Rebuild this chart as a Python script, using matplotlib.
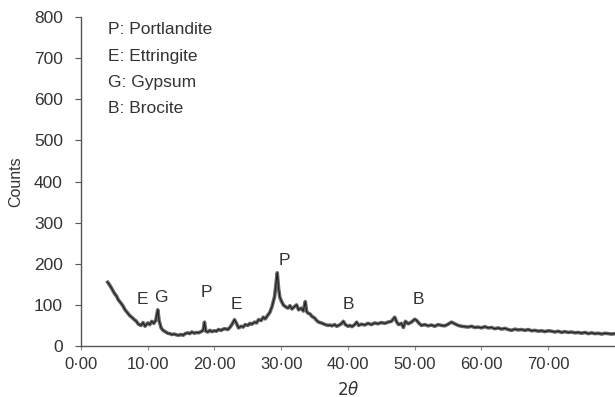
import matplotlib.pyplot as plt
from matplotlib.ticker import FuncFormatter

# XRD pattern, values
two_theta = [4.0, 4.3, 4.6, 5.0, 5.3, 5.6, 6.0, 6.3, 6.6, 7.0, 7.3, 7.6, 8.0, 8.3, 8.6,
             9.0, 9.3, 9.6, 10.0, 10.3, 10.6, 10.9, 11.2, 11.5, 11.7, 12.0, 12.3, 12.6,
             13.0, 13.3, 13.6, 14.0, 14.3, 14.6, 15.0, 15.3, 15.6, 16.0, 16.3, 16.6,
             17.0, 17.3, 17.6, 18.0, 18.3, 18.5, 18.7, 19.0, 19.3, 19.6, 20.0, 20.3,
             20.6, 21.0, 21.3, 21.6, 22.0, 22.3, 22.6, 23.0, 23.3, 23.6, 24.0, 24.3,
             24.6, 25.0, 25.3, 25.6, 26.0, 26.3, 26.6, 27.0, 27.3, 27.6, 28.0, 28.3,
             28.6, 29.0, 29.2, 29.4, 29.6, 29.8, 30.0, 30.3, 30.6, 31.0, 31.3, 31.6,
             32.0, 32.3, 32.6, 33.0, 33.3, 33.6, 33.8, 34.0, 34.3, 34.6, 35.0, 35.3,
             35.6, 36.0, 36.3, 36.6, 37.0, 37.3, 37.6, 38.0, 38.3, 38.6, 39.0, 39.3,
             39.6, 40.0, 40.3, 40.6, 41.0, 41.3, 41.6, 42.0, 42.5, 43.0, 43.5, 44.0,
             44.5, 45.0, 45.5, 46.0, 46.5, 47.0, 47.3, 47.6, 48.0, 48.3, 48.6, 49.0,
             49.5, 50.0, 50.3, 50.6, 51.0, 51.5, 52.0, 52.5, 53.0, 53.5, 54.0, 54.5,
             55.0, 55.5, 56.0, 56.5, 57.0, 57.5, 58.0, 58.5, 59.0, 59.5, 60.0, 60.5,
             61.0, 61.5, 62.0, 62.5, 63.0, 63.5, 64.0, 64.5, 65.0, 65.5, 66.0, 66.5,
             67.0, 67.5, 68.0, 68.5, 69.0, 69.5, 70.0, 70.5, 71.0, 71.5, 72.0, 72.5,
             73.0, 73.5, 74.0, 74.5, 75.0, 75.5, 76.0, 76.5, 77.0, 77.5, 78.0, 78.5,
             79.0, 79.5, 80.0]
counts = [155, 148, 140, 128, 122, 112, 104, 97, 88, 80, 74, 70, 64, 60, 53,
          50, 57, 48, 56, 52, 60, 55, 62, 88, 62, 44, 38, 35,
          31, 30, 28, 29, 27, 26, 28, 26, 30, 32, 30, 34,
          31, 33, 32, 35, 38, 58, 36, 34, 38, 35, 37, 36,
          40, 38, 41, 42, 40, 45, 52, 64, 55, 44, 48, 46,
          52, 50, 55, 53, 58, 56, 64, 62, 70, 66, 75, 82,
          95, 120, 150, 178, 140, 118, 110, 100, 96, 92, 98, 90,
          96, 100, 88, 92, 85, 108, 84, 80, 78, 72, 68, 62,
          58, 56, 54, 52, 50, 51, 49, 52, 48, 50, 54, 60,
          52, 48, 50, 47, 52, 58, 50, 53, 51, 55, 52, 56,
          54, 57, 55, 58, 60, 70, 58, 52, 55, 45, 60, 54,
          58, 65, 62, 56, 50, 52, 49, 51, 48, 52, 50, 49,
          53, 58, 54, 50, 48, 47, 46, 48, 45, 46, 44, 47,
          44, 45, 42, 44, 41, 43, 40, 38, 41, 39, 40, 38,
          40, 37, 38, 36, 37, 35, 37, 36, 34, 36, 33, 35,
          33, 34, 32, 33, 31, 33, 30, 32, 30, 31, 29, 31,
          30, 29, 30]

# peak labels
peak_labels = ['E', 'G', 'P', 'E', 'P', 'B', 'B']
peak_x = [9.2, 11.9, 18.8, 23.3, 30.5, 40.0, 50.5]
peak_y = [112, 117, 131, 100, 209, 102, 114]

legend_lines = ['P: Portlandite', 'E: Ettringite', 'G: Gypsum', 'B: Brocite']
x_ticks = [0, 10, 20, 30, 40, 50, 60, 70]
y_ticks = [0, 100, 200, 300, 400, 500, 600, 700, 800]

plt.rcParams['font.family'] = ['Liberation Sans', 'DejaVu Sans']
txt = '#333333'

fig = plt.figure(figsize=(6.15, 3.97), dpi=100)
ax = fig.add_axes([0.1317, 0.1285, 0.8683, 0.8285])

ax.plot(two_theta, counts, color='#505050', lw=2.6, alpha=0.85)
ax.plot(two_theta, counts, color='#1e1e1e', lw=0.8)

for lab, px, py in zip(peak_labels, peak_x, peak_y):
    ax.text(px, py, lab, ha='center', va='center', fontsize=12.5, color=txt)

for i, line in enumerate(legend_lines):
    ax.text(4.0, 769 - i * 64, line, ha='left', va='center', fontsize=12.5, color=txt)

ax.set_xlim(0, 80)
ax.set_ylim(0, 800)
ax.set_xticks(x_ticks)
ax.set_yticks(y_ticks)
ax.xaxis.set_major_formatter(FuncFormatter(lambda v, p: f'{v:.2f}'.replace('.', '\u00b7')))

for s in ['top', 'right']:
    ax.spines[s].set_visible(False)
for s in ['left', 'bottom']:
    ax.spines[s].set_color('#555555')
    ax.spines[s].set_linewidth(1.0)

ax.tick_params(axis='y', length=4, width=0.8, colors='#555555', labelcolor=txt,
               labelsize=12.5, pad=9)
ax.tick_params(axis='x', length=3, width=0.8, colors='#888888', labelcolor=txt,
               labelsize=12, pad=5)

ax.set_ylabel('Counts', fontsize=11.5, color=txt, labelpad=8)
ax.set_xlabel(r'$2\theta$', fontsize=12, color=txt, labelpad=6)

fig.savefig('out.png', dpi=100)
